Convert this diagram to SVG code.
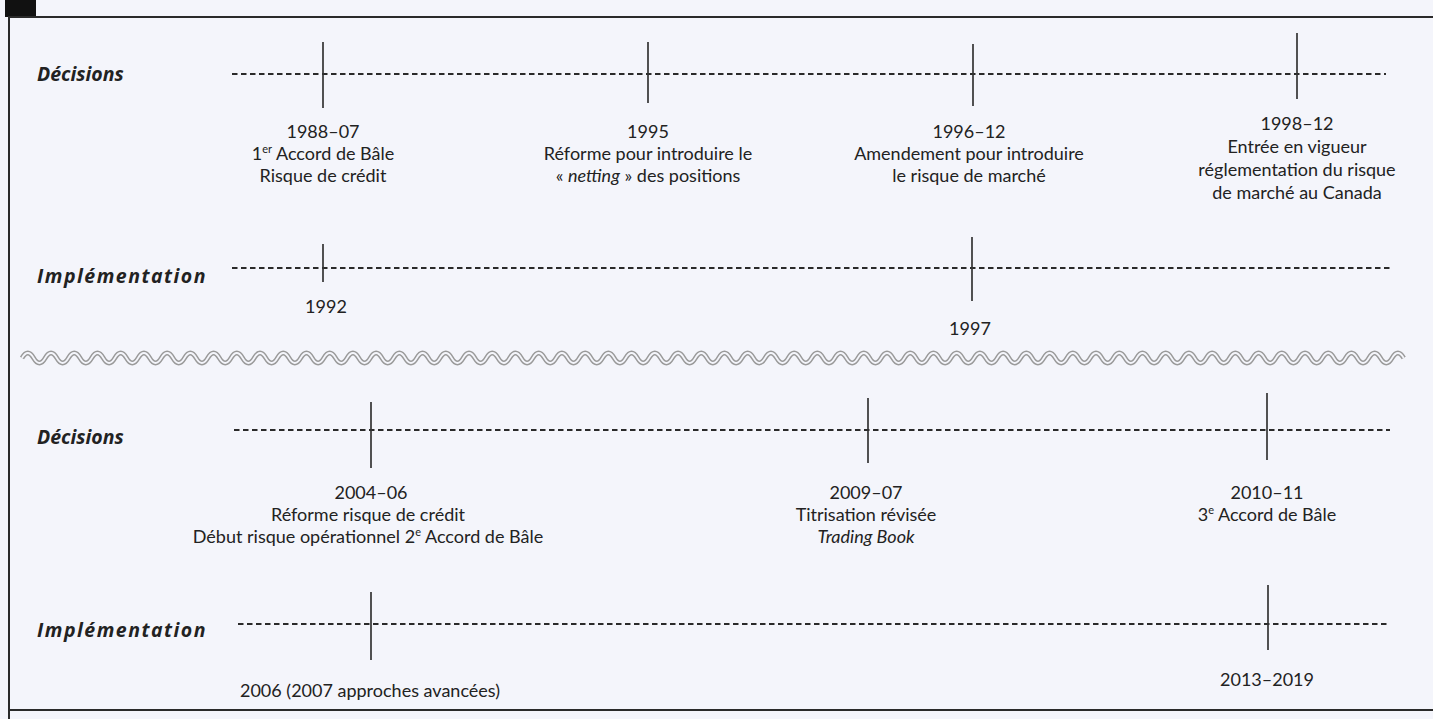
<svg xmlns="http://www.w3.org/2000/svg" width="1433" height="719" viewBox="0 0 1433 719">
<defs>
<style>
.bg{fill:#f4f5fb}
.frame{fill:none;stroke:#2a2a2a;stroke-width:2}
.axis{stroke:#2a2a2a;stroke-width:2.2;stroke-dasharray:5.5 3.5;fill:none}
.tick{stroke:#333;stroke-width:1.7}
.lab{font-family:"Open Sans",Lato,"Liberation Sans",sans-serif;font-weight:bold;font-style:italic;font-size:19.5px;fill:#222}
.wide{letter-spacing:1.5px}
.t{font-family:Lato,"Open Sans","Liberation Sans",sans-serif;font-size:18px;fill:#222;text-anchor:middle}
.i{font-style:italic}
.sup{font-size:11px}
.wave1{fill:none;stroke:#9a9a9a;stroke-width:4.8}
.wave2{fill:none;stroke:#f4f5fb;stroke-width:1.8}
</style>
<path id="wp" d="M22 358 q5.86 -10 11.72 0 t11.72 0 t11.72 0 t11.72 0 t11.72 0 t11.72 0 t11.72 0 t11.72 0 t11.72 0 t11.72 0 t11.72 0 t11.72 0 t11.72 0 t11.72 0 t11.72 0 t11.72 0 t11.72 0 t11.72 0 t11.72 0 t11.72 0 t11.72 0 t11.72 0 t11.72 0 t11.72 0 t11.72 0 t11.72 0 t11.72 0 t11.72 0 t11.72 0 t11.72 0 t11.72 0 t11.72 0 t11.72 0 t11.72 0 t11.72 0 t11.72 0 t11.72 0 t11.72 0 t11.72 0 t11.72 0 t11.72 0 t11.72 0 t11.72 0 t11.72 0 t11.72 0 t11.72 0 t11.72 0 t11.72 0 t11.72 0 t11.72 0 t11.72 0 t11.72 0 t11.72 0 t11.72 0 t11.72 0 t11.72 0 t11.72 0 t11.72 0 t11.72 0 t11.72 0 t11.72 0 t11.72 0 t11.72 0 t11.72 0 t11.72 0 t11.72 0 t11.72 0 t11.72 0 t11.72 0 t11.72 0 t11.72 0 t11.72 0 t11.72 0 t11.72 0 t11.72 0 t11.72 0 t11.72 0 t11.72 0 t11.72 0 t11.72 0 t11.72 0 t11.72 0 t11.72 0 t11.72 0 t11.72 0 t11.72 0 t11.72 0 t11.72 0 t11.72 0 t11.72 0 t11.72 0 t11.72 0 t11.72 0 t11.72 0 t11.72 0 t11.72 0 t11.72 0 t11.72 0 t11.72 0 t11.72 0 t11.72 0 t11.72 0 t11.72 0 t11.72 0 t11.72 0 t11.72 0 t11.72 0 t11.72 0 t11.72 0 t11.72 0 t11.72 0 t11.72 0 t11.72 0 t11.72 0 t11.72 0 t11.72 0 t11.72 0 t11.72 0 t11.72 0"/>
</defs>
<rect class="bg" x="0" y="0" width="1433" height="719"/>
<rect x="5" y="0" width="31" height="17" fill="#111"/>
<path class="frame" d="M1433 17 H9 V719"/>
<path class="frame" d="M9 710 H1433"/>

<g id="labels">
<text class="lab" x="37" y="81">Décisions</text>
<text class="lab wide" x="37" y="283">Implémentation</text>
<text class="lab" x="37" y="444">Décisions</text>
<text class="lab wide" x="37" y="637">Implémentation</text>
</g>

<g id="connectors">
<line class="axis" x1="232" y1="74" x2="1386" y2="74"/>
<line class="axis" x1="232" y1="268" x2="1390" y2="268"/>
<line class="axis" x1="234" y1="430" x2="1390" y2="430"/>
<line class="axis" x1="238" y1="624" x2="1390" y2="624"/>
</g>

<g id="wave" transform="matrix(0.9907 0 0 1 0.2 0)">
<use href="#wp" class="wave1"/>
<use href="#wp" class="wave2"/>
</g>

<g id="n1988">
<line class="tick" x1="323" y1="42" x2="323" y2="108"/>
<text class="t" x="323" y="138">1988–07</text>
<text class="t" x="323" y="160">1<tspan class="sup" dy="-7">er</tspan><tspan dy="7"> Accord de Bâle</tspan></text>
<text class="t" x="323" y="182">Risque de crédit</text>
</g>
<g id="n1995">
<line class="tick" x1="648" y1="42" x2="648" y2="103"/>
<text class="t" x="648" y="138">1995</text>
<text class="t" x="648" y="160">Réforme pour introduire le</text>
<text class="t" x="648" y="182">« <tspan class="i">netting</tspan> » des positions</text>
</g>
<g id="n1996">
<line class="tick" x1="973" y1="44" x2="973" y2="106"/>
<text class="t" x="969" y="138">1996–12</text>
<text class="t" x="969" y="160">Amendement pour introduire</text>
<text class="t" x="969" y="182">le risque de marché</text>
</g>
<g id="n1998">
<line class="tick" x1="1297" y1="33" x2="1297" y2="99"/>
<text class="t" x="1297" y="130">1998–12</text>
<text class="t" x="1297" y="153">Entrée en vigueur</text>
<text class="t" x="1297" y="176">réglementation du risque</text>
<text class="t" x="1297" y="199">de marché au Canada</text>
</g>
<g id="n1992">
<line class="tick" x1="323" y1="244" x2="323" y2="282"/>
<text class="t" x="326" y="313">1992</text>
</g>
<g id="n1997">
<line class="tick" x1="972" y1="237" x2="972" y2="301"/>
<text class="t" x="970" y="335">1997</text>
</g>
<g id="n2004">
<line class="tick" x1="371" y1="402" x2="371" y2="468"/>
<text class="t" x="371" y="499">2004–06</text>
<text class="t" x="368" y="521">Réforme risque de crédit</text>
<text class="t" x="368" y="543">Début risque opérationnel 2<tspan class="sup" dy="-7">e</tspan><tspan dy="7"> Accord de Bâle</tspan></text>
</g>
<g id="n2009">
<line class="tick" x1="868" y1="398" x2="868" y2="463"/>
<text class="t" x="866" y="499">2009–07</text>
<text class="t" x="866" y="521">Titrisation révisée</text>
<text class="t i" x="866" y="543">Trading Book</text>
</g>
<g id="n2010">
<line class="tick" x1="1267" y1="393" x2="1267" y2="460"/>
<text class="t" x="1267" y="499">2010–11</text>
<text class="t" x="1267" y="521">3<tspan class="sup" dy="-7">e</tspan><tspan dy="7"> Accord de Bâle</tspan></text>
</g>
<g id="n2006">
<line class="tick" x1="371" y1="592" x2="371" y2="660"/>
<text class="t" x="370" y="697">2006 (2007 approches avancées)</text>
</g>
<g id="n2013">
<line class="tick" x1="1268" y1="585" x2="1268" y2="650"/>
<text class="t" x="1267" y="686">2013–2019</text>
</g>
</svg>
